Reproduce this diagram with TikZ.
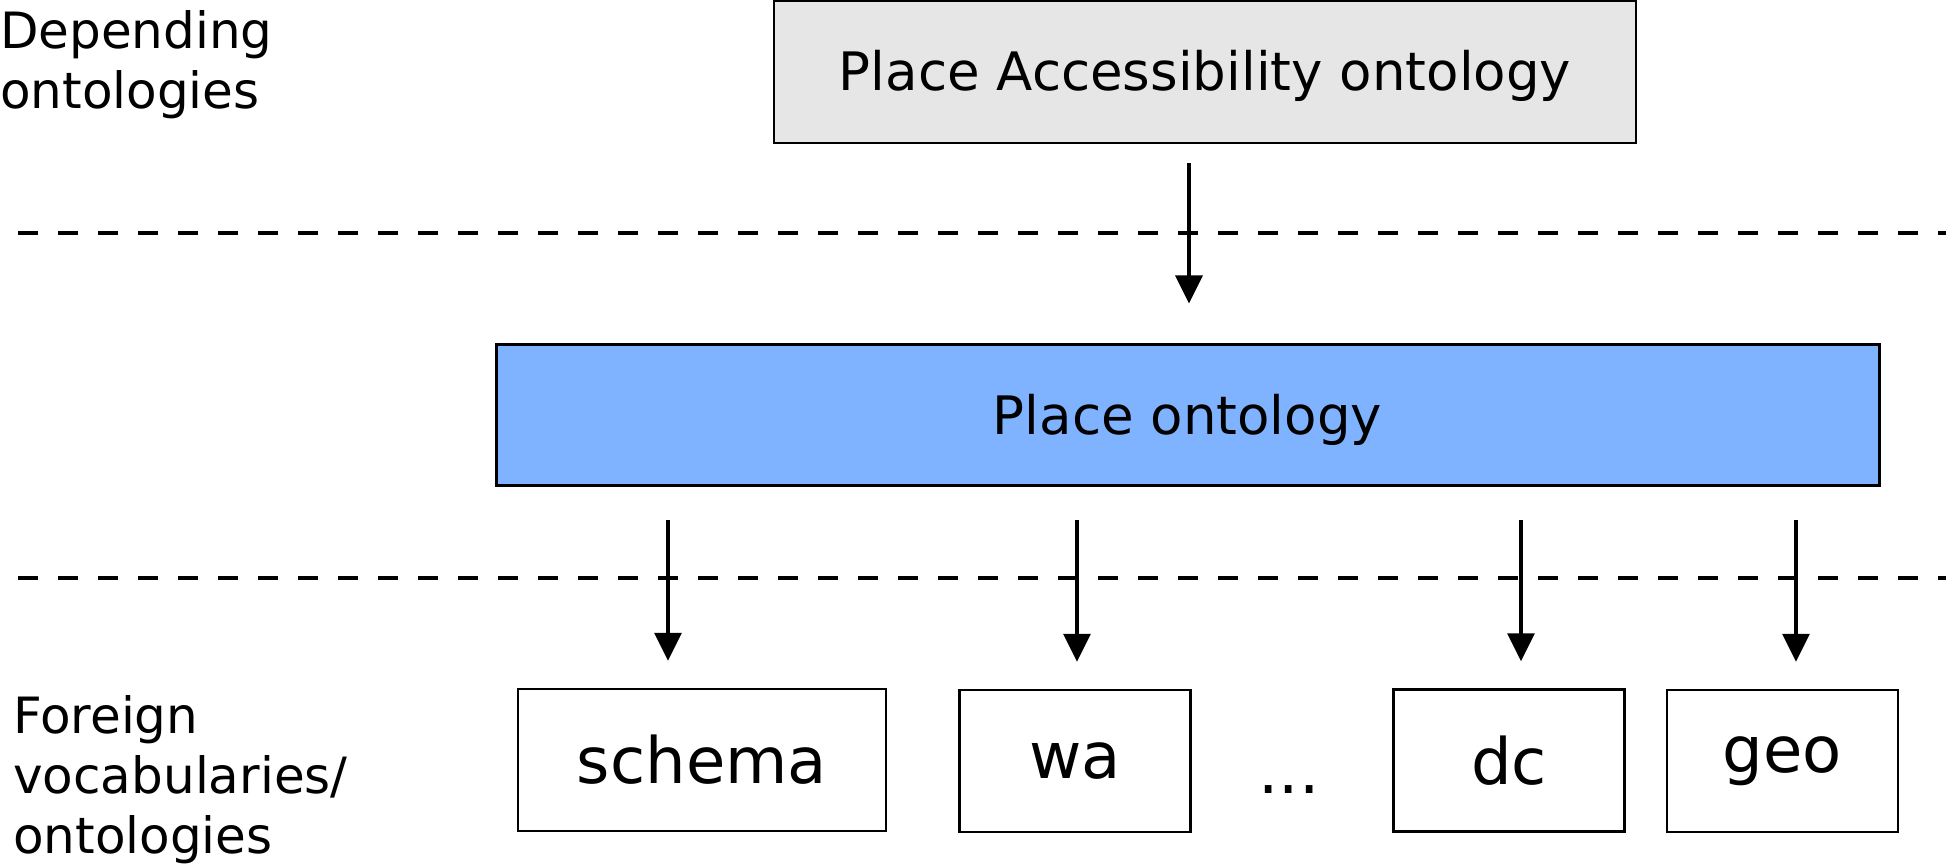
\documentclass[tikz,border=0pt]{standalone}
\usepackage{fontspec}
\setmainfont{DejaVu Sans}
\usetikzlibrary{arrows.meta}
\definecolor{boxgray}{RGB}{230,230,230}
\definecolor{boxblue}{RGB}{128,179,255}
\begin{document}
\begin{tikzpicture}[x=1pt,y=-1pt,
  bigbox/.style={draw=black, inner sep=0pt, text height=38pt, text depth=0pt,
    font=\fontsize{53}{60}\selectfont},
  vocbox/.style={draw=black, line width=2.5pt, inner sep=0pt,
    minimum width=231pt, minimum height=142pt, font=\fontsize{64}{70}\selectfont},
  lbl/.style={anchor=north west, inner sep=0pt, align=left,
    font=\fontsize{50}{60}\selectfont},
  sep/.style={line width=4pt, dash pattern=on 20pt off 20pt},
  arr/.style={line width=3.5pt, -{Triangle[length=28pt, width=27pt]}}]
\useasboundingbox (0,0) rectangle (1946,866);

% separators
\coordinate (s1a) at (18,233);
\coordinate (s1b) at (1946,233);
\coordinate (s2a) at (18,578);
\coordinate (s2b) at (1946,578);
\draw[sep] (s1a) -- (s1b);
\draw[sep] (s2a) -- (s2b);

% boxes
\node[bigbox, fill=boxgray, line width=2.5pt, minimum width=862pt, minimum height=142pt]
  (pao) at (1205,72) {Place Accessibility ontology};
\node[bigbox, fill=boxblue, line width=3pt, minimum width=1383pt, minimum height=140pt]
  (po) at (1187.5,415) {Place ontology};

\node[vocbox, minimum width=368pt] (schema) at (702,760) {schema};
\node[vocbox] (wa) at (1075,761) {wa};
\node[vocbox] (dc) at (1509,760.5) {dc};
\node[vocbox] (geo) at (1782.5,761) {geo};
\node[anchor=base, inner sep=0pt, font=\fontsize{64}{70}\selectfont] (dots) at (1289,793) {...};

% labels
\node[lbl] (dep) at (0,10) {Depending\\ontologies};
\node[lbl] (for) at (13,695) {Foreign\\vocabularies/\\ontologies};

% arrows
\draw[arr, shorten <=19pt, shorten >=40pt] ([xshift=-16pt]pao.south) -- ([xshift=-16pt]pao.south |- po.north);
\draw[arr, shorten <=33pt, shorten >=27pt] (po.south -| 668,0) -- (schema.north -| 668,0);
\draw[arr, shorten <=33pt, shorten >=27pt] (po.south -| 1077,0) -- (wa.north -| 1077,0);
\draw[arr, shorten <=33pt, shorten >=27pt] (po.south -| 1521,0) -- (dc.north -| 1521,0);
\draw[arr, shorten <=33pt, shorten >=27pt] (po.south -| 1796,0) -- (geo.north -| 1796,0);
\end{tikzpicture}
\end{document}
